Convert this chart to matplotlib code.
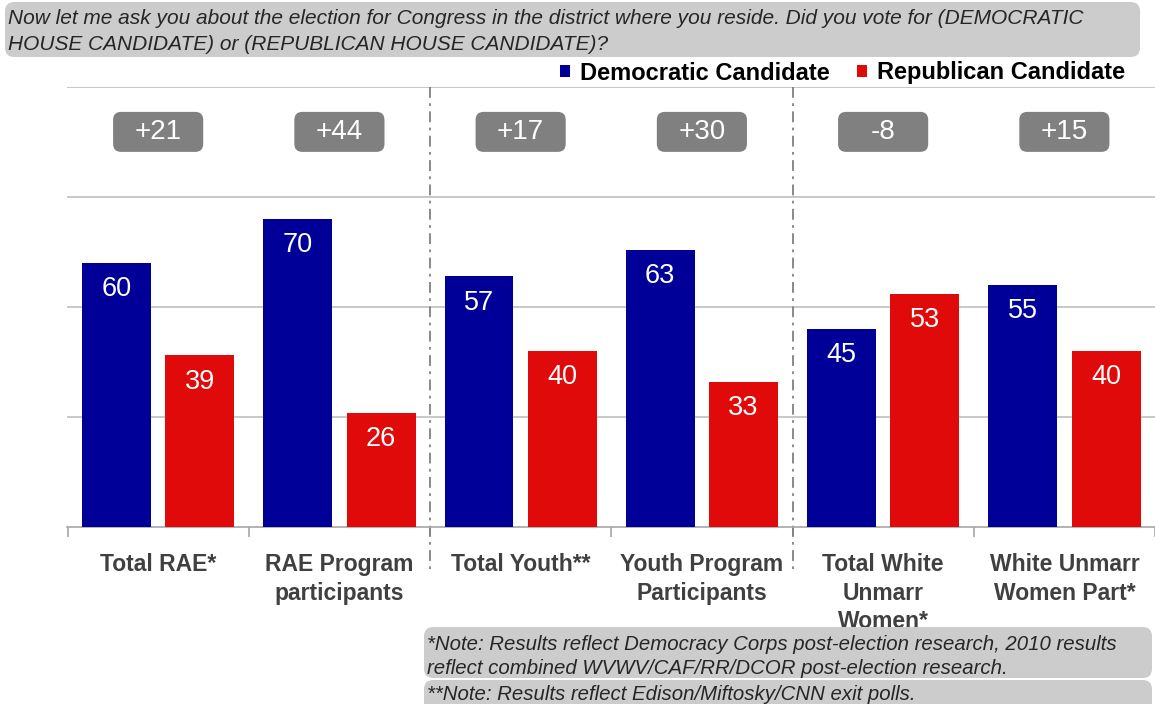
import matplotlib
matplotlib.use("Agg")
import matplotlib.pyplot as plt
from matplotlib.patches import FancyBboxPatch
import numpy as np

plt.rcParams['font.family'] = ['Liberation Sans', 'DejaVu Sans']

categories = ["Total RAE*", "RAE Program\nparticipants", "Total Youth**",
              "Youth Program\nParticipants", "Total White\nUnmarr\nWomen*",
              "White Unmarr\nWomen Part*"]
dem = [60, 70, 57, 63, 45, 55]
rep = [39, 26, 40, 33, 53, 40]
margins = ["+21", "+44", "+17", "+30", "-8", "+15"]
series_names = ["Democratic Candidate", "Republican Candidate"]
dem_color = "#000099"
rep_color = "#E00A0A"

W, H = 1155, 704
fig = plt.figure(figsize=(W / 100, H / 100), dpi=100)

ax_left, ax_right, ax_top, ax_bot = 67, 1155, 87, 527
ax = fig.add_axes([ax_left / W, 1 - ax_bot / H, (ax_right - ax_left) / W, (ax_bot - ax_top) / H])
ax.set_ylim(0, 100)
ax.set_xlim(-0.503, 5.443)

px_x = 1 / 183.0          # data units per pixel in x
px_y = 100 / 440.0        # data units per pixel in y

x = np.arange(len(categories))
bw = 0.380
off = 0.230
b1 = ax.bar(x - off, dem, bw, color=dem_color, zorder=3)
b2 = ax.bar(x + off, rep, bw, color=rep_color, zorder=3)

for xi, v in zip(x - off, dem):
    ax.text(xi, v - 6, str(v), ha='center', va='center', color='white', fontsize=19.5, zorder=4)
for xi, v in zip(x + off, rep):
    ax.text(xi, v - 6, str(v), ha='center', va='center', color='white', fontsize=19.5, zorder=4)

# grid
for gy in [25, 50, 75, 100]:
    ax.axhline(gy, color='#BFBFBF', lw=1.2, zorder=1)
for s in ['top', 'right', 'left']:
    ax.spines[s].set_visible(False)
ax.spines['bottom'].set_color('#A6A6A6')
ax.spines['bottom'].set_linewidth(1.2)
ax.set_yticks([])
ax.set_xticks(np.arange(-0.5, 6.0, 1.0))
ax.set_xticklabels([])
ax.tick_params(axis='x', length=7, color='#A6A6A6', width=1.2, direction='out')

# category labels
for xi, c in zip(x, categories):
    ax.text(xi, -6.0, c, ha='center', va='top', fontsize=16.5, fontweight='bold',
            color='#404040', linespacing=1.3, clip_on=False)

# dashed separators
for xs in [1.5, 3.5]:
    ax.plot([xs, xs], [100, -10.7], color='#808080', lw=1.3, dashes=(6, 3, 1.5, 3),
            clip_on=False, zorder=2)

# margin boxes
bw_px, bh_px = 91, 40
for xi, m in zip(x, margins):
    cy = 89.8
    p = FancyBboxPatch((xi - bw_px / 2 * px_x, cy - bh_px / 2 * px_y), bw_px * px_x, bh_px * px_y,
                       boxstyle='round,pad=0,rounding_size=%f' % (8 * px_x),
                       mutation_aspect=px_y / px_x, fc='#808080', ec='none', zorder=5)
    ax.add_patch(p)
    ax.text(xi, cy, m, ha='center', va='center', color='white', fontsize=20, zorder=6)

# title box
def fig_box(x0, y0, x1, y1, color='#CCCCCC'):
    p = FancyBboxPatch((x0 / W, 1 - y1 / H), (x1 - x0) / W, (y1 - y0) / H,
                       boxstyle='round,pad=0,rounding_size=0.008', fc=color, ec='none',
                       transform=fig.transFigure, mutation_aspect=W / H)
    fig.add_artist(p)

fig_box(5, 2, 1140, 57)
tkw = dict(fontsize=15, style='italic', color='#262626', va='center', ha='left')
fig.text(8 / W, 1 - 18 / H, "Now let me ask you about the election for Congress in the district where you reside. Did you vote for (DEMOCRATIC", **tkw)
fig.text(8 / W, 1 - 44 / H, "HOUSE CANDIDATE) or (REPUBLICAN HOUSE CANDIDATE)?", **tkw)

# legend
leg = fig.legend([b1, b2], series_names, loc='center right', bbox_to_anchor=(1125 / W, 1 - 73 / H),
                 ncol=2, frameon=False, handlelength=0.45, handleheight=0.45, handletextpad=0.4,
                 columnspacing=1.15, borderpad=0, borderaxespad=0,
                 prop={'weight': 'bold', 'size': 17})

# footnote boxes
fig_box(424, 627, 1152, 678)
fig_box(424, 680, 1152, 712)
fkw = dict(fontsize=14.7, style='italic', color='#262626', va='center', ha='left')
fig.text(427 / W, 1 - 645 / H, "*Note: Results reflect Democracy Corps post-election research, 2010 results", **fkw)
fig.text(427 / W, 1 - 668 / H, "reflect combined WVWV/CAF/RR/DCOR post-election research.", **fkw)
fig.text(427 / W, 1 - 694 / H, "**Note: Results reflect Edison/Miftosky/CNN exit polls.", **fkw)

fig.savefig("out.png", dpi=100)
